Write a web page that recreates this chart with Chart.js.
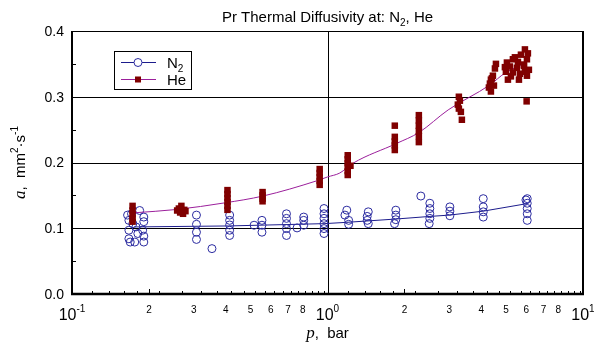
<!DOCTYPE html>
<html><head><meta charset="utf-8">
<script src="https://cdn.jsdelivr.net/npm/chart.js@4/dist/chart.umd.min.js"></script>
<style>html,body{margin:0;padding:0;background:#fff}canvas{display:block}</style>
</head><body>
<canvas id="c" width="594" height="347"></canvas>
<script>
// ---- data ----
const n2P = [0.165,0.167,0.167,0.167,0.169,0.171,0.173,0.176,0.178,0.181,0.184,0.191,0.191,0.189,0.191,0.191,
  0.307,0.307,0.307,0.307,0.353,
  0.414,0.414,0.414,0.414,0.414,
  0.516,0.554,0.554,0.554,
  0.691,0.691,0.691,0.691,0.691,
  0.760,0.807,0.807,0.807,
  0.969,0.969,0.969,0.969,0.969,0.969,
  1.19,1.17,1.21,1.21,
  1.444,1.43,1.43,1.444,
  1.851,1.851,1.851,1.83,
  2.319,
  2.515,2.515,2.515,2.515,2.50,
  3.013,3.013,3.013,
  4.07,4.07,4.07,4.07,
  6.05,6.05,6.05,6.05,6.05,5.98];
const n2A = [0.120,0.112,0.097,0.084,0.079,0.122,0.107,0.079,0.102,0.092,0.127,0.117,0.110,0.097,0.088,0.079,
  0.120,0.106,0.094,0.083,0.069,
  0.120,0.112,0.105,0.097,0.089,
  0.1046,0.112,0.1046,0.094,
  0.122,0.115,0.107,0.0995,0.089,
  0.1005,0.117,0.112,0.1046,
  0.130,0.122,0.115,0.107,0.0995,0.092,
  0.1275,0.120,0.112,0.106,
  0.125,0.118,0.112,0.107,
  0.1275,0.120,0.113,0.107,
  0.149,
  0.138,0.130,0.122,0.115,0.107,
  0.1325,0.126,0.119,
  0.145,0.1325,0.125,0.117,
  0.145,0.138,0.130,0.122,0.112,0.143];
const n2FitP = [0.175,0.41,0.97,1.19,1.85,2.52,3.0,4.07,6.05];
const n2FitA = [0.102,0.1035,0.107,0.109,0.114,0.118,0.120,0.126,0.1375];

const heP = [0.1726,0.1726,0.1726,0.1726,0.1726,
  0.262,0.268,0.275,0.265,0.272,0.278,0.258,
  0.406,0.406,0.406,0.406,0.406,0.406,
  0.557,0.557,0.557,0.557,
  0.932,0.932,0.932,0.932,0.932,
  1.20,1.20,1.20,1.20,1.20,1.20,1.23,
  1.834,1.834,1.834,1.834,1.834,
  2.278,2.278,2.278,2.278,2.278,2.278,
  3.267,3.297,3.237,3.267,3.327,3.357,
  4.563,4.522,4.440,4.361,4.322,4.283,4.361,4.481,4.400,
  5.925,6.086,5.716,6.034,5.317,5.564,5.037,5.873,5.176,5.513,6.141,4.992,5.317,5.665,6.034,5.083,5.614,5.925,5.414,5.223,5.873,4.947,6.017];
const heA = [0.134,0.127,0.121,0.115,0.110,
  0.130,0.134,0.128,0.124,0.122,0.126,0.127,
  0.158,0.152,0.146,0.140,0.134,0.128,
  0.155,0.150,0.145,0.141,
  0.190,0.184,0.178,0.172,0.166,
  0.211,0.205,0.199,0.193,0.187,0.181,0.195,
  0.256,0.239,0.232,0.226,0.219,
  0.272,0.264,0.256,0.248,0.240,0.231,
  0.300,0.294,0.288,0.282,0.277,0.265,
  0.350,0.343,0.332,0.326,0.320,0.314,0.308,0.317,0.328,
  0.372,0.366,0.364,0.357,0.357,0.353,0.352,0.349,0.346,0.344,0.341,0.338,0.337,0.335,0.332,0.326,0.326,0.338,0.360,0.331,0.347,0.345,0.293];
const heFitP = [0.175,0.256,0.396,0.559,0.905,1.0,1.117,1.26,1.863,2.278,2.967,4.32,4.95,6.0];
const heFitA = [0.1235,0.1285,0.1386,0.149,0.172,0.178,0.184,0.199,0.229,0.2455,0.280,0.318,0.336,0.352];

const yTickVals = [0.0,0.1,0.2,0.3,0.4];
const yTickLabels = ["0.0","0.1","0.2","0.3","0.4"];
const xDecades = [0.1,1,10];
const xDecadeExp = ["-1","0","1"];
const xMinorDigits = [2,3,4,5,6,7,8];

const toPts = (xs, ys) => xs.map((x,i)=>({x:x, y:ys[i]}));

const SANS = '"Liberation Sans", Arial, sans-serif';
const SERIF = '"Liberation Serif", "Times New Roman", serif';

function drawRich(ctx, segs, x, y, align){
  let w = 0;
  segs.forEach(s=>{ctx.font=s.f; s.w = ctx.measureText(s.t).width; w += s.w;});
  let cx = align==='center' ? x - w/2 : (align==='right' ? x - w : x);
  ctx.textAlign='left'; ctx.textBaseline='alphabetic';
  segs.forEach(s=>{ctx.font=s.f; ctx.fillText(s.t, cx, y + (s.dy||0)); cx += s.w;});
  return w;
}

const decor = {
  id:'decor',
  beforeDatasetsDraw(chart){
    const ctx = chart.ctx, a = chart.chartArea, xs = chart.scales.x, ys = chart.scales.y;
    ctx.save();
    ctx.strokeStyle='#000'; ctx.lineWidth=1;
    [0.1,0.2,0.3].forEach(v=>{
      const y = Math.round(ys.getPixelForValue(v))+0.5;
      ctx.beginPath(); ctx.moveTo(a.left,y); ctx.lineTo(a.right,y); ctx.stroke();
    });
    const x1 = Math.round(xs.getPixelForValue(1))+0.5;
    ctx.beginPath(); ctx.moveTo(x1,a.top); ctx.lineTo(x1,a.bottom); ctx.stroke();
    ctx.restore();
  },
  afterDraw(chart){
    const ctx = chart.ctx, a = chart.chartArea, xs = chart.scales.x, ys = chart.scales.y;
    ctx.save();
    ctx.strokeStyle='#000'; ctx.fillStyle='#000';
    ctx.lineWidth=1;
    ctx.beginPath(); ctx.moveTo(a.left,a.top+0.5); ctx.lineTo(a.right,a.top+0.5); ctx.stroke();
    ctx.lineWidth=2;
    ctx.beginPath(); ctx.moveTo(a.left,a.top); ctx.lineTo(a.left,a.bottom); ctx.stroke();
    ctx.beginPath(); ctx.moveTo(a.right,a.top); ctx.lineTo(a.right,a.bottom+1); ctx.stroke();
    ctx.lineWidth=2.5;
    ctx.beginPath(); ctx.moveTo(a.left-1,a.bottom); ctx.lineTo(a.right+1,a.bottom); ctx.stroke();
    ctx.lineWidth=1;
    [0.05,0.15,0.25,0.35].forEach(v=>{
      const y = Math.round(ys.getPixelForValue(v))+0.5;
      ctx.beginPath(); ctx.moveTo(a.left,y); ctx.lineTo(a.left+4,y); ctx.stroke();
    });
    xDecades.slice(0,2).forEach(d=>{
      for(let m=1;m<10;m+=(m<2?0.2:0.5)){
        const v = d*m;
        const x = Math.round(xs.getPixelForValue(v))+0.5;
        const isInt = Math.abs(m-Math.round(m))<1e-6;
        const len = isInt ? 5 : 3;
        ctx.beginPath(); ctx.moveTo(x,a.bottom); ctx.lineTo(x,a.bottom-len); ctx.stroke();
      }
    });
    ctx.font='14px '+SANS; ctx.textAlign='right'; ctx.textBaseline='middle';
    yTickVals.forEach((v,i)=>{
      ctx.fillText(yTickLabels[i], a.left-8, ys.getPixelForValue(v)+1);
    });
    xDecades.forEach((d,i)=>{
      const x = xs.getPixelForValue(d);
      drawRich(ctx,[{t:'10',f:'16px '+SANS},{t:xDecadeExp[i],f:'10px '+SANS,dy:-8}], x, 320, 'center');
    });
    ctx.font='10px '+SANS; ctx.textAlign='center'; ctx.textBaseline='alphabetic';
    xDecades.slice(0,2).forEach(d=>{
      xMinorDigits.forEach(m=>{ ctx.fillText(String(m), xs.getPixelForValue(d*m), 313); });
    });
    drawRich(ctx,[{t:'p',f:'italic 17px '+SERIF},{t:',  bar',f:'15px '+SANS}], (a.left+a.right)/2, 338, 'center');
    ctx.save();
    ctx.translate(25,(a.top+a.bottom)/2); ctx.rotate(-Math.PI/2);
    drawRich(ctx,[{t:'a',f:'italic 17px '+SERIF},{t:',  mm',f:'15px '+SANS},{t:'2',f:'10px '+SANS,dy:-7},{t:'\u00B7s',f:'15px '+SANS},{t:'-1',f:'10px '+SANS,dy:-7}],0,0,'center');
    ctx.restore();
    drawRich(ctx,[{t:'Pr Thermal Diffusivity at: N',f:'15px '+SANS},{t:'2',f:'10px '+SANS,dy:4},{t:', He',f:'15px '+SANS}], (a.left+a.right)/2, 22, 'center');
    // legend
    ctx.lineWidth=1; ctx.strokeStyle='#000';
    ctx.strokeRect(114.5,51.5,77,38);
    ctx.strokeStyle='#1c1c8c';
    ctx.beginPath(); ctx.moveTo(121,62.5); ctx.lineTo(156,62.5); ctx.stroke();
    ctx.fillStyle='#fff'; ctx.strokeStyle='#2b2ba0';
    ctx.beginPath(); ctx.arc(138,62.5,4,0,Math.PI*2); ctx.fill(); ctx.stroke();
    ctx.strokeStyle='#9b1f9b';
    ctx.beginPath(); ctx.moveTo(121,79.5); ctx.lineTo(156,79.5); ctx.stroke();
    ctx.fillStyle='#800000'; ctx.fillRect(135,76.5,6,6);
    ctx.fillStyle='#000';
    drawRich(ctx,[{t:'N',f:'15px '+SANS},{t:'2',f:'10px '+SANS,dy:4}],167,68,'left');
    drawRich(ctx,[{t:'He',f:'15px '+SANS}],167,85,'left');
    ctx.restore();
  }
};

new Chart(document.getElementById('c').getContext('2d'), {
  type:'scatter',
  data:{datasets:[
    {label:'He', data:toPts(heP,heA), pointStyle:'rect', pointRadius:4.6, pointHoverRadius:4.6, backgroundColor:'#800000', borderColor:'#800000', borderWidth:0, showLine:false, order:0},
    {label:'He fit', data:toPts(heFitP,heFitA), showLine:true, pointRadius:0, borderColor:'#9b1f9b', borderWidth:1, cubicInterpolationMode:'monotone', tension:0.4, order:1},
    {label:'N2', data:toPts(n2P,n2A), pointStyle:'circle', pointRadius:4, pointHoverRadius:4, borderColor:'#2b2ba0', backgroundColor:'rgba(255,255,255,0)', borderWidth:1, showLine:false, order:2},
    {label:'N2 fit', data:toPts(n2FitP,n2FitA), showLine:true, pointRadius:0, borderColor:'#1c1c8c', borderWidth:1, order:3}
  ]},
  options:{
    responsive:false, animation:false, devicePixelRatio:1,
    layout:{padding:{left:72,right:11,top:31,bottom:53}},
    scales:{
      x:{type:'logarithmic', min:0.1, max:10, display:false},
      y:{type:'linear', min:0, max:0.4, display:false}
    },
    plugins:{legend:{display:false}, tooltip:{enabled:false}, title:{display:false}}
  },
  plugins:[decor]
});
</script>
</body></html>
